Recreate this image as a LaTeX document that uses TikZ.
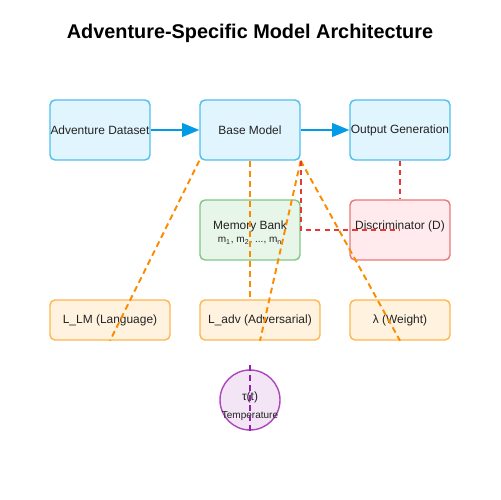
\documentclass[tikz,border=0pt]{standalone}
\usepackage{fontspec}
\setmainfont{Liberation Sans}
\usetikzlibrary{arrows.meta}
\definecolor{textdark}{RGB}{34,34,34}
\definecolor{bluefill}{RGB}{225,245,254}
\definecolor{blueline}{RGB}{79,190,240}
\definecolor{bluearrow}{RGB}{3,155,229}
\definecolor{greenfill}{RGB}{232,245,233}
\definecolor{greenline}{RGB}{129,199,132}
\definecolor{redfill}{RGB}{255,235,238}
\definecolor{redline}{RGB}{235,120,120}
\definecolor{reddash}{RGB}{229,57,53}
\definecolor{orangefill}{RGB}{255,243,224}
\definecolor{orangeline}{RGB}{255,183,77}
\definecolor{orangedash}{RGB}{251,140,0}
\definecolor{purplefill}{RGB}{243,229,245}
\definecolor{purpleline}{RGB}{171,71,188}
\definecolor{purpledash}{RGB}{142,36,170}

\begin{document}
\begin{tikzpicture}[x=0.02cm, y=-0.02cm,
    box/.style={draw, rounded corners=0.1cm, line width=0.8pt, minimum width=2cm,
        minimum height=1.2cm, inner sep=0pt, text=textdark,
        font=\fontsize{6.8}{8.5}\selectfont},
    stagebox/.style={box, fill=bluefill, draw=blueline},
    lossbox/.style={box, fill=orangefill, draw=orangeline, minimum width=2.4cm, minimum height=0.8cm},
    tag/.style={text=textdark, inner sep=0pt, font=\fontsize{6.8}{8}\selectfont},
    smalltag/.style={tag, font=\fontsize{5.7}{7}\selectfont},
    flow/.style={line width=1.1pt, bluearrow, -{Triangle[length=9.8pt, width=7.8pt]}},
    lossdash/.style={line width=1.1pt, orangedash, dash pattern=on 3.4pt off 2.3pt},
    advdash/.style={line width=1.1pt, reddash, dash pattern=on 3pt off 2.3pt}]
    \useasboundingbox (0,0) rectangle (500,500);

    % Title
    \node[font=\fontsize{11.3}{13}\selectfont\bfseries] (title) at (250,33) {Adventure-Specific Model Architecture};

    % Main pipeline
    \node[stagebox] (data) at (100,130) {Adventure Dataset};
    \node[stagebox] (base) at (250,130) {Base Model};
    \node[stagebox] (out) at (400,130) {Output Generation};

    % Memory and discriminator
    \node[box, fill=greenfill, draw=greenline] (mem) at (250,230) {};
    \node[tag] (memlabel) at (250,226) {Memory Bank};
    \node[smalltag] (memslots) at (250,241) {m\textsubscript{1}, m\textsubscript{2}, ..., m\textsubscript{n}};
    \node[box, fill=redfill, draw=redline] (disc) at (400,230) {};
    \node[tag] (disclabel) at (400,226) {Discriminator (D)};

    % Loss terms
    \node[lossbox] (llm) at (110,320) {L\_LM (Language)};
    \node[lossbox] (ladv) at (260,320) {L\_adv (Adversarial)};
    \node[lossbox, minimum width=2cm] (lam) at (400,320) {λ (Weight)};

    % Temperature
    \node[circle, draw=purpleline, fill=purplefill, line width=0.8pt, minimum size=1.2cm, inner sep=0pt] (temp) at (250,400) {};
    \node[tag] (tau) at (250,397) {τ(t)};
    \node[smalltag] (templabel) at (250,416) {Temperature};
    \coordinate (tautop) at (250,365);

    % Arrows
    \draw[flow] (data) -- (base);
    \draw[flow] (base) -- (out);

    % Loss links
    \draw[lossdash] (base.south west) -- (llm.south);
    \draw[lossdash] (base.south) -- (ladv.north -| base.south);
    \draw[lossdash] (base.south east) -- (ladv.south);
    \draw[lossdash] (base.south east) -- (lam.south);

    % Adversarial links
    \draw[advdash] (out.south) -- (disc.north);
    \draw[advdash] (base.south east) |- (disc.center);

    % Temperature link
    \draw[line width=1.1pt, purpledash, dash pattern=on 3.4pt off 2.3pt] (tautop) -- (temp.south);
\end{tikzpicture}
\end{document}
